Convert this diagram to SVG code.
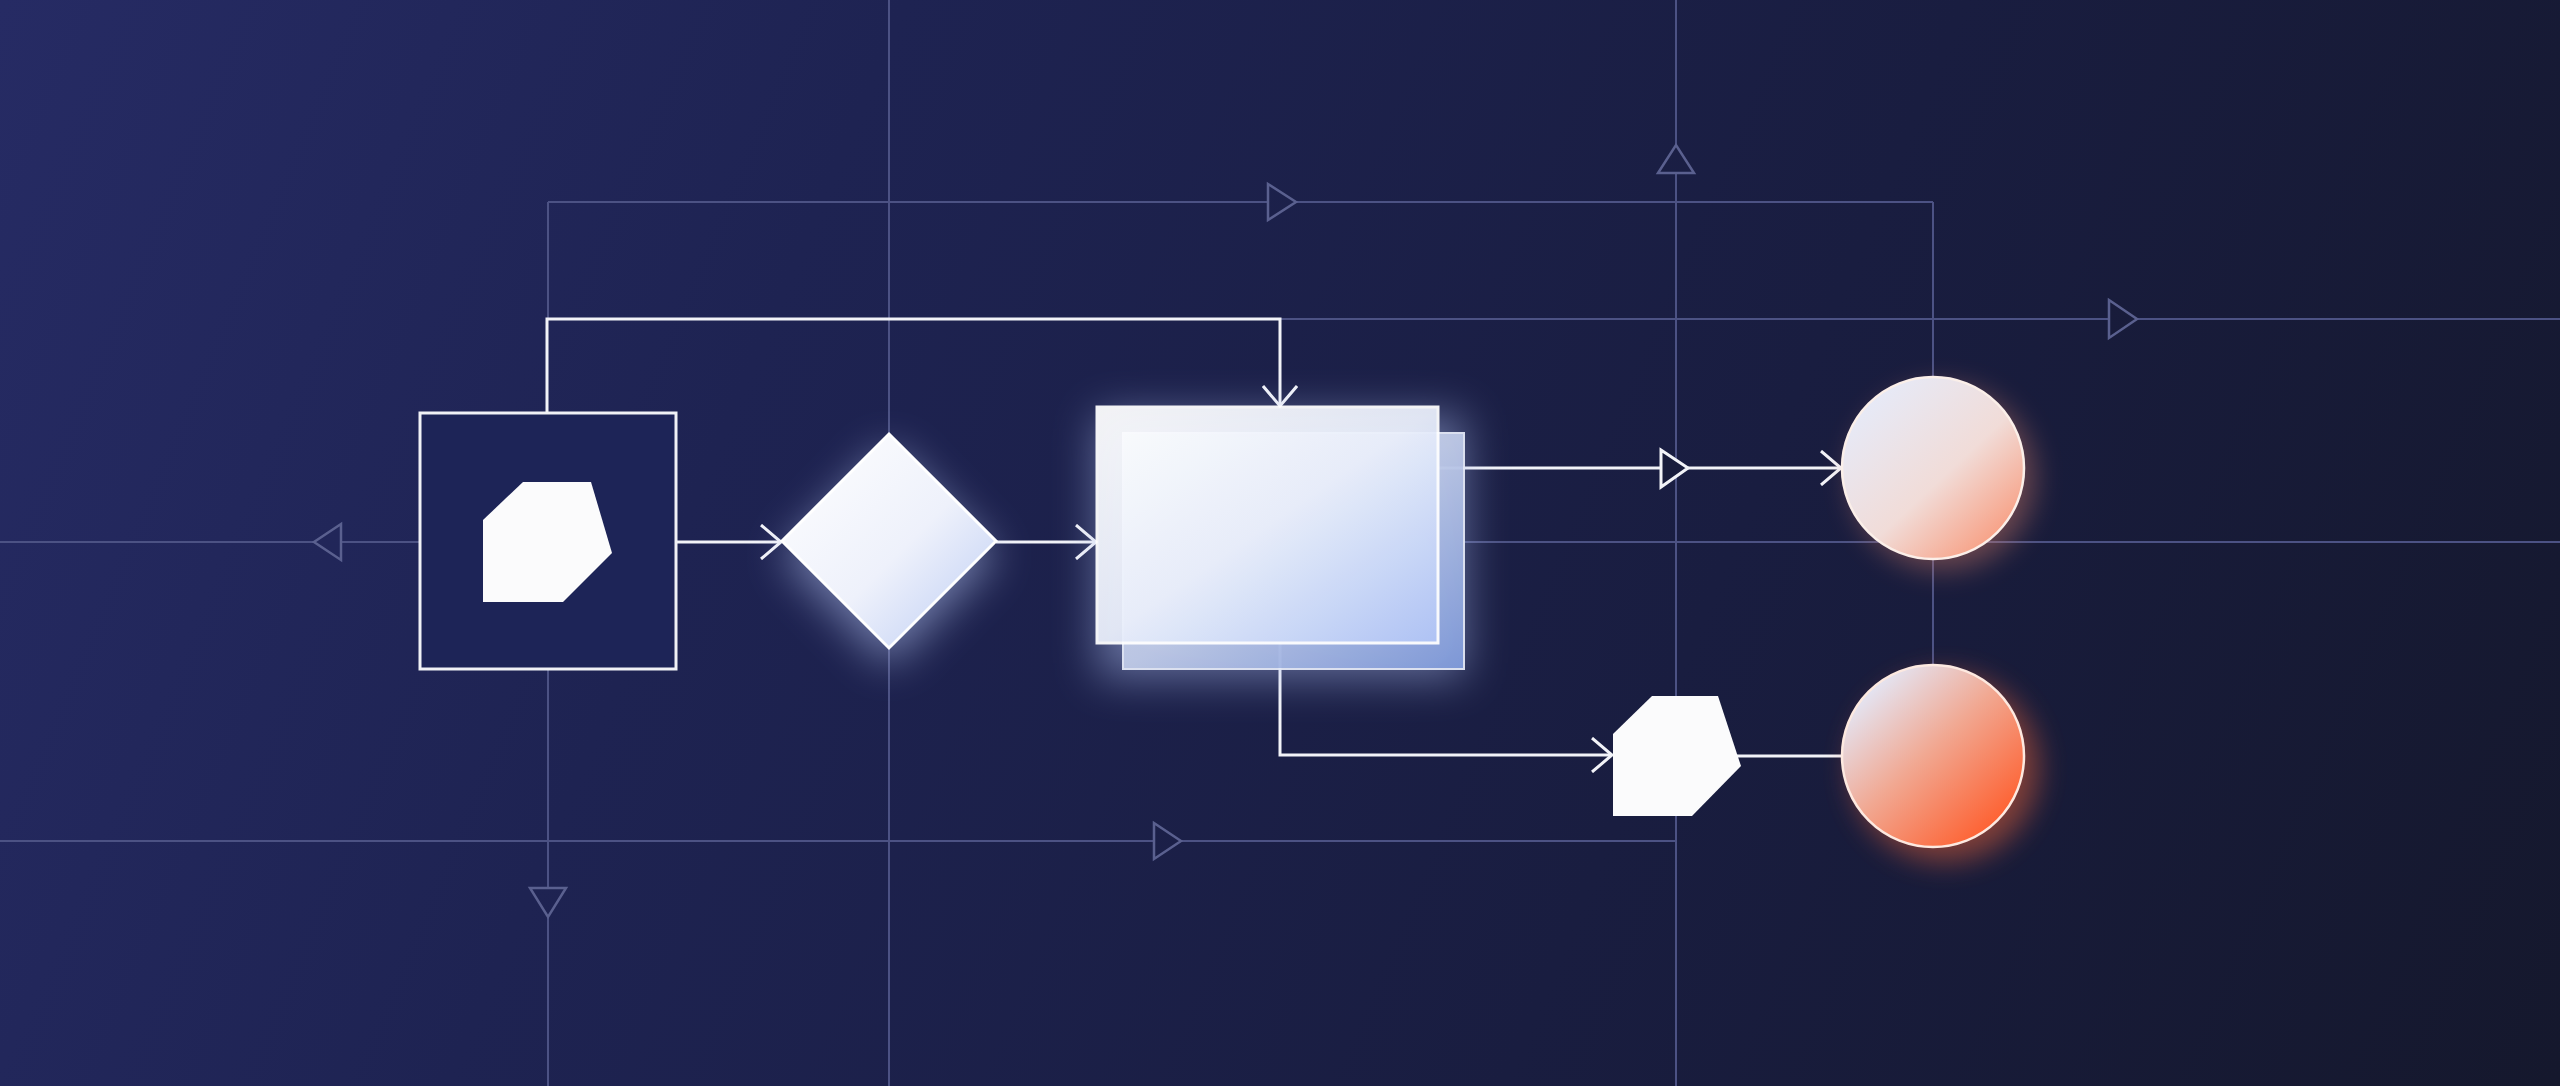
<svg xmlns="http://www.w3.org/2000/svg" width="2560" height="1086" viewBox="0 0 2560 1086">
<defs>
<linearGradient id="bg" x1="0" y1="0" x2="2560" y2="1086" gradientUnits="userSpaceOnUse">
<stop offset="0" stop-color="#262b64"/>
<stop offset="0.3" stop-color="#1e2352"/>
<stop offset="0.65" stop-color="#191d40"/>
<stop offset="1" stop-color="#15182d"/>
</linearGradient>
<linearGradient id="gDiamond" x1="0" y1="0" x2="1" y2="1">
<stop offset="0" stop-color="#ffffff"/>
<stop offset="0.55" stop-color="#eef1fb"/>
<stop offset="1" stop-color="#b9caf3"/>
</linearGradient>
<linearGradient id="gFront" x1="0" y1="0" x2="1" y2="1">
<stop offset="0" stop-color="#ffffff"/>
<stop offset="0.5" stop-color="#eaeffb"/>
<stop offset="1" stop-color="#b1c5f6"/>
</linearGradient>
<linearGradient id="gBack" x1="0" y1="0" x2="1" y2="1">
<stop offset="0" stop-color="#dfe3ee"/>
<stop offset="0.5" stop-color="#c0cbe8"/>
<stop offset="1" stop-color="#819cdc"/>
</linearGradient>
<linearGradient id="gC1" x1="0.15" y1="0.1" x2="0.9" y2="0.9">
<stop offset="0" stop-color="#e6eaf8"/>
<stop offset="0.55" stop-color="#f1dcd8"/>
<stop offset="1" stop-color="#f89a7c"/>
</linearGradient>
<linearGradient id="gC2" x1="0.15" y1="0.1" x2="0.9" y2="0.9">
<stop offset="0" stop-color="#e3e8f8"/>
<stop offset="0.45" stop-color="#f1a892"/>
<stop offset="1" stop-color="#ff5a28"/>
</linearGradient>
<filter id="blurL" x="-50%" y="-50%" width="200%" height="200%"><feGaussianBlur stdDeviation="22"/></filter>
<filter id="blurM" x="-50%" y="-50%" width="200%" height="200%"><feGaussianBlur stdDeviation="14"/></filter>
<marker id="chev" viewBox="0 0 24 36" refX="22" refY="18" markerWidth="24" markerHeight="36" markerUnits="userSpaceOnUse" orient="auto">
<path d="M2,1 L22,18 L2,35" fill="none" stroke="#f2f3f8" stroke-width="3"/>
</marker>
</defs>
<style>
.grid{stroke:#4c5284;stroke-width:2;fill:none}
.tri{stroke:#5a608f;stroke-width:2.5;fill:none;stroke-linejoin:miter}
.wire{stroke:#f2f3f8;stroke-width:3;fill:none}
.wtri{stroke:#f2f3f8;stroke-width:3;fill:#181c3c}
.hex{fill:#fbfbfc}
</style>
<rect x="0" y="0" width="2560" height="1086" fill="url(#bg)"/>

<g id="connectors">
<path class="grid" d="M548 202 V320 M548 669 V888 M548 917 V1086"/>
<path class="grid" d="M889 0 V1086"/>
<path class="grid" d="M1676 0 V145 M1676 173 V1086"/>
<path class="grid" d="M1933 202 V380 M1933 556 V668"/>
<path class="grid" d="M548 202 H1268 M1296 202 H1933"/>
<path class="grid" d="M1280 319 H2109 M2137 319 H2560"/>
<path class="grid" d="M0 542 H314 M341 542 H420 M1464 542 H2560"/>
<path class="grid" d="M0 841 H1154 M1181 841 H1676"/>
<polygon class="tri" points="1268,184 1296,202 1268,220"/>
<polygon class="tri" points="2109,300 2137,319 2109,338"/>
<polygon class="tri" points="341,524 314,542 341,560"/>
<polygon class="tri" points="1154,823 1181,841 1154,859"/>
<polygon class="tri" points="530,888 566,888 548,917"/>
<polygon class="tri" points="1658,173 1694,173 1676,145"/>
<path class="wire" d="M547 413 V319 H1280 V406" marker-end="url(#chev)"/>
<path class="wire" d="M676 542 H781" marker-end="url(#chev)"/>
<path class="wire" d="M996 542 H1096" marker-end="url(#chev)"/>
<path class="wire" d="M1438 468 H1661"/>
<polygon class="wtri" points="1661,450 1688,468 1661,487"/>
<path class="wire" d="M1688 468 H1841" marker-end="url(#chev)"/>
<path class="wire" d="M1280 643 V755 H1612" marker-end="url(#chev)"/>
<path class="wire" d="M1735 756 H1843"/>
</g>

<g id="node-start">
<rect x="420" y="413" width="256" height="256" fill="#1d2457" stroke="#f0f1f6" stroke-width="3"/>
<polygon class="hex" points="523,482 591,482 612,553 563,602 483,602 483,520"/>
</g>

<g id="node-decision">
<polygon points="889,446 996,556 889,666 782,556" fill="#b8c8f5" opacity="0.55" filter="url(#blurL)"/>
<polygon points="889,434 996,541 889,648 782,541" fill="url(#gDiamond)" stroke="#ffffff" stroke-width="3" stroke-linejoin="miter"/>
</g>

<g id="node-process">
<rect x="1097" y="415" width="367" height="262" fill="#aebff0" opacity="0.5" filter="url(#blurL)"/>
<rect x="1123" y="433" width="341" height="236" fill="url(#gBack)" stroke="#e3e8f6" stroke-width="2" opacity="0.95"/>
<rect x="1097" y="407" width="341" height="236" fill="url(#gFront)" stroke="#ffffff" stroke-width="3" opacity="0.94"/>
</g>

<g id="node-end-top">
<circle cx="1943" cy="478" r="92" fill="#e8866a" opacity="0.4" filter="url(#blurM)"/>
<circle cx="1933" cy="468" r="91" fill="url(#gC1)" stroke="#fbefe9" stroke-width="2.5"/>
</g>

<g id="node-hexagon">
<polygon class="hex" points="1652,696 1718,696 1741,766 1692,816 1613,816 1613,734"/>
</g>

<g id="node-end-bottom">
<circle cx="1945" cy="768" r="94" fill="#ff6a38" opacity="0.45" filter="url(#blurM)"/>
<circle cx="1933" cy="756" r="91" fill="url(#gC2)" stroke="#fde9e0" stroke-width="2.5"/>
</g>
</svg>
